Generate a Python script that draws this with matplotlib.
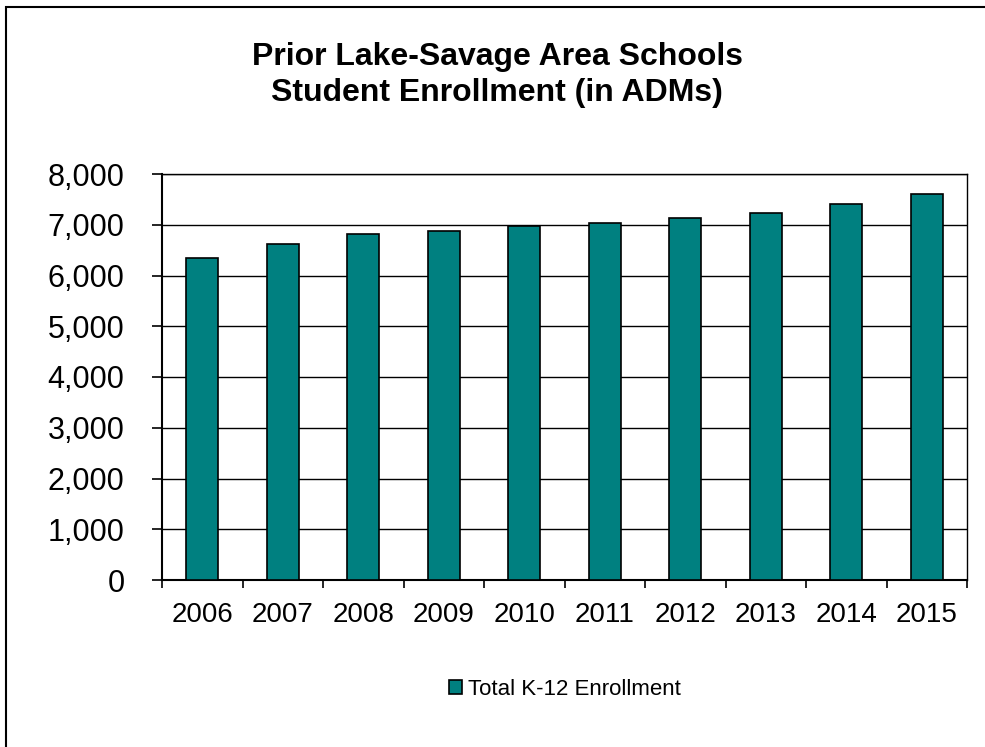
import numpy as np
import matplotlib.pyplot as plt
from matplotlib.patches import Rectangle
from matplotlib.ticker import FuncFormatter, FixedLocator, NullFormatter

plt.rcParams['font.family'] = ['Liberation Sans', 'DejaVu Sans']

years = ['2006', '2007', '2008', '2009', '2010', '2011', '2012', '2013', '2014', '2015']
enrollment = [6347, 6627, 6817, 6882, 6974, 7039, 7124, 7229, 7418, 7602]

W, H = 985, 747
fig = plt.figure(figsize=(W / 100, H / 100), dpi=100)
# plot area in pixels: left 162, right 967, top 174, bottom 580
ax = fig.add_axes([162 / W, 1 - 580 / H, (967 - 162) / W, (580 - 174) / H])

x = np.arange(len(years))
ax.bar(x, enrollment, width=0.4, color='#008080', edgecolor='black', linewidth=1.2, zorder=3)

ax.set_xlim(-0.5, len(years) - 0.5)
ax.set_ylim(0, 8000)
ax.set_yticks(np.arange(0, 8001, 1000))
ax.yaxis.set_major_formatter(FuncFormatter(lambda v, p: f'{int(v):,}'))
ax.grid(axis='y', color='black', linewidth=1, zorder=0)

ax.set_xticks(x)
ax.set_xticklabels(years, fontsize=20)
ax.tick_params(axis='x', which='major', length=0, pad=16)
ax.xaxis.set_minor_locator(FixedLocator(np.arange(-0.5, len(years), 1)))
ax.xaxis.set_minor_formatter(NullFormatter())
ax.tick_params(axis='x', which='minor', length=6, width=1.2)
ax.tick_params(axis='y', labelsize=22, length=7, width=1.2, pad=20)

for s in ['left', 'bottom']:
    ax.spines[s].set_linewidth(1.5)
for s in ['top', 'right']:
    ax.spines[s].set_linewidth(1.0)

fig.text(0.505, 1 - 75 / H, 'Prior Lake-Savage Area Schools\nStudent Enrollment (in ADMs)',
         ha='center', va='center', fontsize=23, fontweight='bold', linespacing=1.3)

leg = ax.legend(['Total K-12 Enrollment'], loc='center', bbox_to_anchor=(0.50, -0.27),
                frameon=False, fontsize=16, handlelength=0.6, handleheight=0.6,
                handletextpad=0.25)

# outer chart border (only left and top edges fall inside the image)
fig.patches.append(Rectangle((6 / W, -0.5), 2.0, 1 - 7 / H + 0.5, transform=fig.transFigure,
                             fill=False, edgecolor='black', linewidth=1.5))

fig.savefig('out.png', dpi=100)
